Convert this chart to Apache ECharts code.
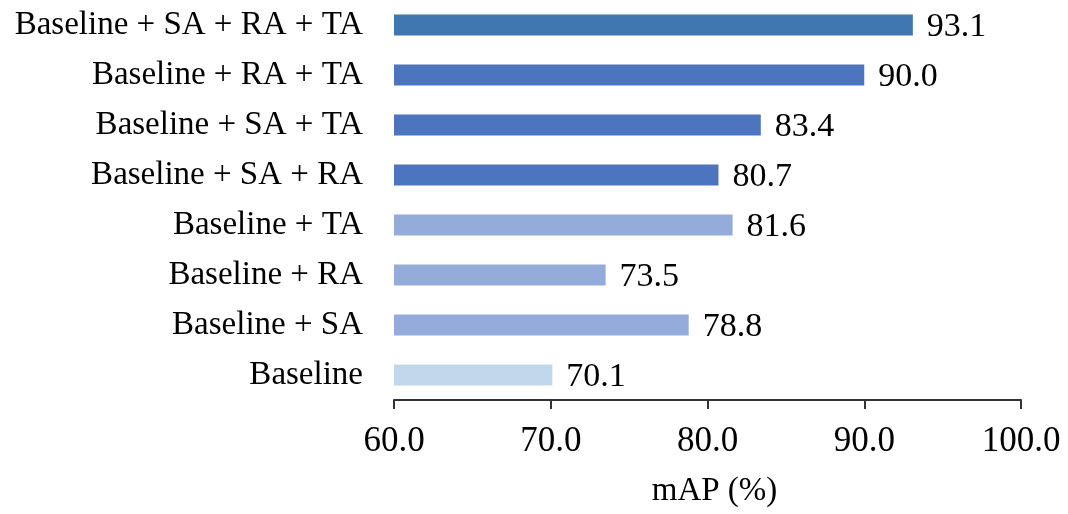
<!DOCTYPE html>
<html>
<head>
<meta charset="utf-8">
<script src="https://cdn.jsdelivr.net/npm/echarts@6/dist/echarts.min.js"></script>
<style>html,body{margin:0;padding:0;background:#fff}#c{width:1068px;height:514px}</style>
</head>
<body>
<div id="c"></div>
<script>
const categories = ["Baseline + SA + RA + TA","Baseline + RA + TA","Baseline + SA + TA","Baseline + SA + RA","Baseline + TA","Baseline + RA","Baseline + SA","Baseline"];
const values = [93.1, 90.0, 83.4, 80.7, 81.6, 73.5, 78.8, 70.1];
const barColors = ["#4177B1","#4D74BE","#4D74BE","#4D74BE","#95ABD9","#95ABD9","#95ABD9","#C1D7EC"];
const xTicks = [60, 70, 80, 90, 100];

const font = "'Liberation Serif', 'DejaVu Serif', serif";
const chart = echarts.init(document.getElementById('c'));
chart.setOption({
  animation: false,
  grid: { left: 394, right: 47, top: -3, bottom: 114, containLabel: false },
  xAxis: {
    type: 'value', min: xTicks[0], max: xTicks[xTicks.length-1], interval: 10,
    name: 'mAP (%)', nameLocation: 'middle', nameGap: 75,
    nameTextStyle: { fontFamily: font, fontSize: 33, color: '#000', padding: [0, 0, 0, 14] },
    axisLine: { show: true, lineStyle: { color: '#333', width: 2 } },
    axisTick: { show: true, length: 9, lineStyle: { color: '#333', width: 2 } },
    splitLine: { show: false },
    axisLabel: { fontFamily: font, fontSize: 35, color: '#000', margin: 24,
      formatter: v => v.toFixed(1) }
  },
  yAxis: {
    type: 'category', data: categories, inverse: true,
    axisLine: { show: false }, axisTick: { show: false },
    axisLabel: { fontFamily: font, fontSize: 33, color: '#000', margin: 31 }
  },
  series: [{
    type: 'bar',
    data: values.map((v, i) => ({ value: v, itemStyle: { color: barColors[i] } })),
    barWidth: 21,
    label: { show: true, position: 'right', distance: 14, fontFamily: font, fontSize: 34, color: '#000',
      offset: [0, 2],
      formatter: p => p.value.toFixed(1) }
  }]
});
</script>
</body>
</html>
